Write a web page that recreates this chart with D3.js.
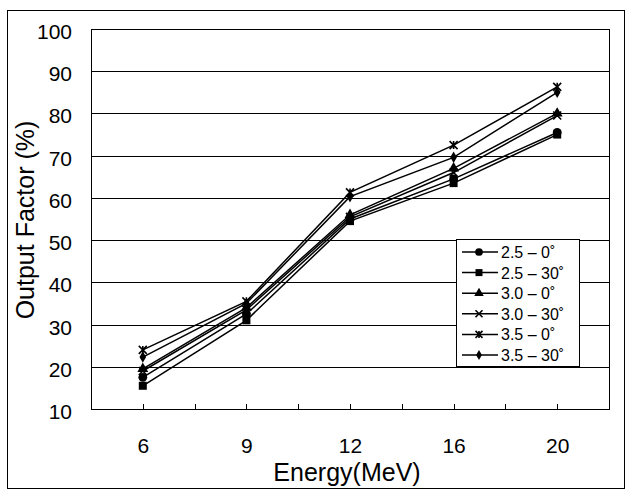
<!DOCTYPE html>
<html>
<head>
<meta charset="utf-8">
<script src="https://d3js.org/d3.v7.min.js"></script>
<style>
  body { margin: 0; background: #fff; }
  text { font-family: "Liberation Sans", Arial, sans-serif; fill: #000; }
</style>
</head>
<body>
<script>
// Chart data
const energies = ['6', '9', '12', '16', '20'];
const seriesNames = ['2.5 – 0˚', '2.5 – 30˚', '3.0 – 0˚', '3.0 – 30˚', '3.5 – 0˚', '3.5 – 30˚'];
const markerTypes = ['circle', 'square', 'triangle', 'cross', 'asterisk', 'diamond'];
const s25_0 = [17.5, 32.5, 55, 64.5, 75.5];
const s25_30 = [15.5, 31, 54.5, 63.5, 75];
const s30_0 = [19.5, 34, 56, 67, 80];
const s30_30 = [19, 33.5, 55.5, 66, 79.5];
const s35_0 = [24, 35.5, 61.3, 72.5, 86.3];
const s35_30 = [22.3, 35, 60.3, 69.6, 85];
const seriesValues = [s25_0, s25_30, s30_0, s30_30, s35_0, s35_30];
const yTicks = [10, 20, 30, 40, 50, 60, 70, 80, 90, 100];

const width = 627, height = 491;
const plot = { left: 91, right: 609, top: 29, bottom: 409 };

const svg = d3.select('body').append('svg')
  .attr('width', width)
  .attr('height', height);

// Outer chart frame
svg.append('rect')
  .attr('x', 7.5).attr('y', 10.5)
  .attr('width', 617).attr('height', 478)
  .attr('fill', 'none')
  .attr('stroke', '#000')
  .attr('stroke-width', 1);

const x = d3.scalePoint()
  .domain(energies)
  .range([plot.left, plot.right])
  .padding(0.5);

const y = d3.scaleLinear()
  .domain([10, 100])
  .range([plot.bottom, plot.top]);

// Horizontal gridlines
svg.append('g')
  .selectAll('line')
  .data(yTicks)
  .enter().append('line')
  .attr('x1', plot.left).attr('x2', plot.right)
  .attr('y1', d => Math.round(y(d)) + 0.5)
  .attr('y2', d => Math.round(y(d)) + 0.5)
  .attr('stroke', '#000')
  .attr('stroke-width', 1);

// Plot border
svg.append('rect')
  .attr('x', plot.left + 0.5).attr('y', plot.top + 0.5)
  .attr('width', plot.right - plot.left).attr('height', plot.bottom - plot.top)
  .attr('fill', 'none')
  .attr('stroke', '#000')
  .attr('stroke-width', 1);

// Y axis labels
const yAxis = d3.axisLeft(y).tickValues(yTicks).tickSize(0).tickPadding(19);
const yG = svg.append('g')
  .attr('transform', `translate(${plot.left},0)`)
  .call(yAxis);
yG.select('.domain').remove();
yG.selectAll('text')
  .style('font-size', '21px')
  .attr('dy', '0.45em');

// X axis: ticks at categories and between them, pointing up
const step = x.step();
const tickPositions = [];
energies.forEach((e, i) => {
  tickPositions.push(x(e));
  if (i < energies.length - 1) tickPositions.push(x(e) + step / 2);
});
svg.append('g')
  .selectAll('line')
  .data(tickPositions)
  .enter().append('line')
  .attr('x1', d => Math.round(d) + 0.5).attr('x2', d => Math.round(d) + 0.5)
  .attr('y1', plot.bottom).attr('y2', plot.bottom - 5)
  .attr('stroke', '#000');

const xAxis = d3.axisBottom(x).tickSize(0).tickPadding(29);
const xG = svg.append('g')
  .attr('transform', `translate(0,${plot.bottom})`)
  .call(xAxis);
xG.select('.domain').remove();
xG.selectAll('text').style('font-size', '21px');

// Axis titles
svg.append('text')
  .attr('x', 347).attr('y', 481)
  .attr('text-anchor', 'middle')
  .style('font-size', '25px')
  .text('Energy(MeV)');

svg.append('text')
  .attr('transform', 'translate(34,220) rotate(-90)')
  .attr('text-anchor', 'middle')
  .style('font-size', '25px')
  .text('Output Factor (%)');

// Marker drawing
function drawMarker(g, type, size) {
  const s = size;
  if (type === 'circle') {
    g.append('circle').attr('r', s * 0.55).attr('fill', '#000');
  } else if (type === 'square') {
    g.append('rect').attr('x', -s / 2).attr('y', -s / 2).attr('width', s).attr('height', s).attr('fill', '#000');
  } else if (type === 'triangle') {
    g.append('path').attr('d', d3.symbol().type(d3.symbolTriangle).size(s * s * 0.8)()).attr('fill', '#000');
  } else if (type === 'cross') {
    g.append('path').attr('d', `M${-s / 2},${-s / 2}L${s / 2},${s / 2}M${-s / 2},${s / 2}L${s / 2},${-s / 2}`)
      .attr('stroke', '#000').attr('stroke-width', 1.6);
  } else if (type === 'asterisk') {
    g.append('path').attr('d', `M${-s / 2},${-s / 2}L${s / 2},${s / 2}M${-s / 2},${s / 2}L${s / 2},${-s / 2}M0,${-s / 2}L0,${s / 2}`)
      .attr('stroke', '#000').attr('stroke-width', 1.6);
  } else if (type === 'diamond') {
    g.append('path').attr('d', d3.symbol().type(d3.symbolDiamond).size(s * s * 0.6)()).attr('fill', '#000');
  }
}

// Series lines and markers
const line = d3.line()
  .x((d, i) => x(energies[i]))
  .y(d => y(d));

seriesValues.forEach((vals, si) => {
  svg.append('path')
    .datum(vals)
    .attr('d', line)
    .attr('fill', 'none')
    .attr('stroke', '#000')
    .attr('stroke-width', 1.5);
  vals.forEach((v, i) => {
    const g = svg.append('g').attr('transform', `translate(${x(energies[i])},${y(v)})`);
    drawMarker(g, markerTypes[si], 8);
  });
});

// Legend
const legend = svg.append('g').attr('transform', 'translate(456,239)');
legend.append('rect')
  .attr('x', 0.5).attr('y', 0.5)
  .attr('width', 123).attr('height', 127)
  .attr('fill', '#fff')
  .attr('stroke', '#000')
  .attr('stroke-width', 1);

seriesNames.forEach((name, i) => {
  const ly = 13 + i * 20.6;
  const row = legend.append('g').attr('transform', `translate(0,${ly})`);
  row.append('line')
    .attr('x1', 6).attr('x2', 42)
    .attr('y1', 0).attr('y2', 0)
    .attr('stroke', '#000').attr('stroke-width', 1.5);
  const mg = row.append('g').attr('transform', 'translate(23,0)');
  drawMarker(mg, markerTypes[i], 7);
  row.append('text')
    .attr('x', 45).attr('y', 0)
    .attr('dy', '0.38em')
    .style('font-size', '16px')
    .text(name);
});
</script>
</body>
</html>
